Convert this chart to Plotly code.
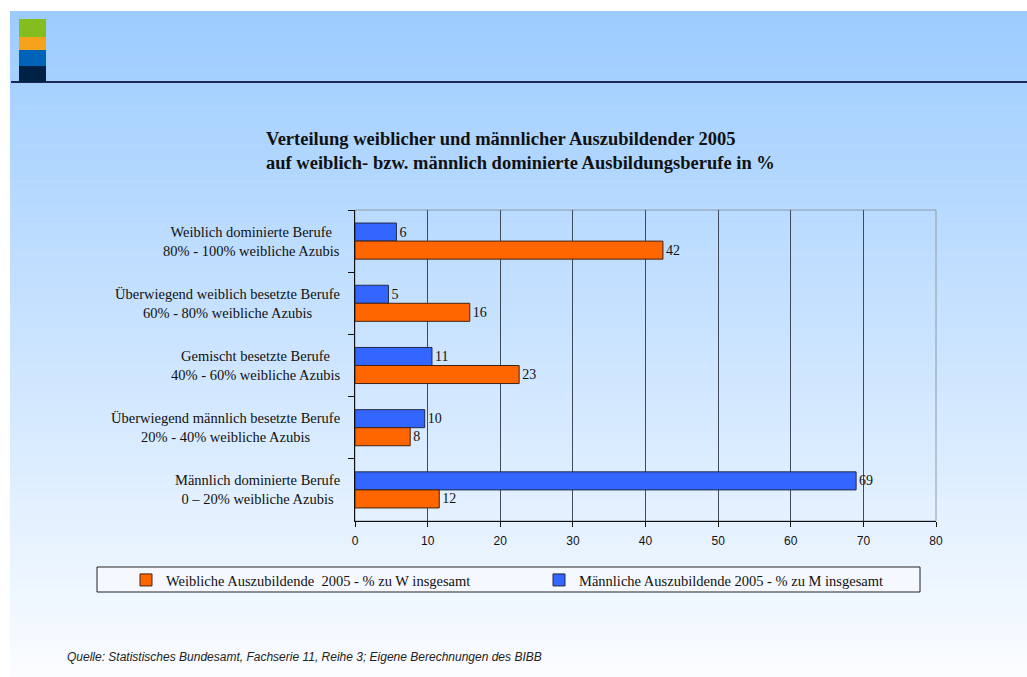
import plotly.graph_objects as go

# ---- data ----
categories = [
    "Weiblich dominierte Berufe<br>80% - 100% weibliche Azubis",
    "Überwiegend weiblich besetzte Berufe<br>60% - 80% weibliche Azubis",
    "Gemischt besetzte Berufe<br>40% - 60% weibliche Azubis",
    "Überwiegend männlich besetzte Berufe<br>20% - 40% weibliche Azubis",
    "Männlich dominierte Berufe<br>0 – 20% weibliche Azubis",
]
maennlich = [5.7, 4.6, 10.6, 9.6, 69.0]
weiblich = [42.4, 15.8, 22.6, 7.6, 11.6]
series_names = [
    "Weibliche Auszubildende  2005 - % zu W insgesamt",
    "Männliche Auszubildende 2005 - % zu M insgesamt",
]
x_ticks = [0, 10, 20, 30, 40, 50, 60, 70, 80]
title_lines = [
    "Verteilung weiblicher und männlicher Auszubildender 2005",
    "auf weiblich- bzw. männlich dominierte Ausbildungsberufe in %",
]
source_text = "Quelle: Statistisches Bundesamt, Fachserie 11, Reihe 3; Eigene Berechnungen des BIBB"

# ---- geometry helpers (pixel -> paper) ----
W, H = 1027, 677
L, R, T, B = 355, 936, 210, 521


def px(x):
    return (x - L) / (R - L)


def py(y):
    return (B - y) / (B - T)


SERIF = "Liberation Serif, Times New Roman, serif"
SANS = "Liberation Sans, Arial, sans-serif"

fig = go.Figure()
fig.add_trace(go.Bar(
    y=categories, x=maennlich, orientation="h", name=series_names[1],
    marker=dict(color="#3366FF", line=dict(color="#222a44", width=1)),
    texttemplate="%{x:.0f}", textposition="outside", constraintext="none",
    textfont=dict(family=SERIF, size=14, color="#111"), cliponaxis=False,
    legendrank=2,
))
fig.add_trace(go.Bar(
    y=categories, x=weiblich, orientation="h", name=series_names[0],
    marker=dict(color="#FF6600", line=dict(color="#442211", width=1)),
    texttemplate="%{x:.0f}", textposition="outside", constraintext="none",
    textfont=dict(family=SERIF, size=14, color="#111"), cliponaxis=False,
    legendrank=1,
))

shapes = []
# background gradient
top_c = (156, 204, 255)
bot_c = (250, 252, 255)
n = 90
y0, y1 = 11, 677
for i in range(n):
    a = y0 + (y1 - y0) * i / n
    b = y0 + (y1 - y0) * (i + 1) / n + 0.6
    f = i / (n - 1)
    c = tuple(round(top_c[k] + (bot_c[k] - top_c[k]) * f) for k in range(3))
    shapes.append(dict(type="rect", xref="paper", yref="paper", layer="below",
                       x0=px(10), x1=px(W + 2), y0=py(a), y1=py(b),
                       fillcolor="rgb(%d,%d,%d)" % c, line=dict(width=0)))
# header line
shapes.append(dict(type="line", xref="paper", yref="paper", layer="below",
                   x0=px(11), x1=px(W + 2), y0=py(82), y1=py(82),
                   line=dict(color="#1b2a55", width=2)))
# logo blocks
for (ya, yb, col) in [(19, 37, "#84BE1E"), (37, 50, "#F4A31A"),
                      (50, 66, "#0062B8"), (66, 82, "#002244")]:
    shapes.append(dict(type="rect", xref="paper", yref="paper", layer="below",
                       x0=px(19), x1=px(46), y0=py(ya), y1=py(yb),
                       fillcolor=col, line=dict(width=0)))
# plot frame
shapes.append(dict(type="rect", xref="paper", yref="paper", layer="below",
                   x0=0, x1=1, y0=0, y1=1, line=dict(color="#8e9aa8", width=1)))
# legend box
shapes.append(dict(type="rect", xref="paper", yref="paper", layer="below",
                   x0=px(97), x1=px(920), y0=py(567), y1=py(592),
                   fillcolor="#F5F9FF", line=dict(color="#222", width=1)))

annotations = []
for cat in categories:
    annotations.append(dict(text=cat, x=px(342), y=cat, xref="paper", yref="y",
                            xanchor="right", yanchor="middle", align="center",
                            showarrow=False,
                            font=dict(family=SERIF, size=14.5, color="#111")))
annotations.append(dict(text="<b>" + "<br>".join(title_lines) + "</b>",
                        x=px(264), y=py(151), xref="paper", yref="paper",
                        xanchor="left", yanchor="middle", align="left",
                        showarrow=False,
                        font=dict(family=SERIF, size=18.5, color="#111")))
annotations.append(dict(text="<i>" + source_text + "</i>",
                        x=px(65), y=py(657), xref="paper", yref="paper",
                        xanchor="left", yanchor="middle", showarrow=False,
                        font=dict(family=SANS, size=12, color="#222")))

fig.update_layout(
    width=W, height=H,
    margin=dict(l=L, r=W - R, t=T, b=H - B, pad=0),
    paper_bgcolor="white", plot_bgcolor="rgba(0,0,0,0)",
    barmode="group", bargap=0.42, bargroupgap=0,
    shapes=shapes, annotations=annotations,
    showlegend=True,
    legend=dict(orientation="h", x=px(126), xanchor="left",
                y=py(580), yanchor="middle",
                bgcolor="rgba(0,0,0,0)", borderwidth=0,
                entrywidth=368, entrywidthmode="pixels",
                itemwidth=30, itemclick=False,
                font=dict(family=SERIF, size=14.5, color="#111")),
    xaxis=dict(range=[0, 80], tickvals=x_ticks, showgrid=True,
               gridcolor="#3f4a5a", gridwidth=1, zeroline=False,
               showline=True, linecolor="#111", linewidth=1,
               ticks="outside", ticklen=5, tickcolor="#111",
               ticklabelstandoff=4,
               tickfont=dict(family=SANS, size=12, color="#111")),
    yaxis=dict(autorange="reversed", showticklabels=False, showgrid=False,
               showline=True, linecolor="#111", linewidth=1,
               ticks="outside", ticklen=6, tickcolor="#111",
               tickson="boundaries"),
)

fig.write_html("out.html",
               config={"displayModeBar": False},
               post_script="document.body.style.margin='0';"
                           "document.body.style.overflow='hidden';")
